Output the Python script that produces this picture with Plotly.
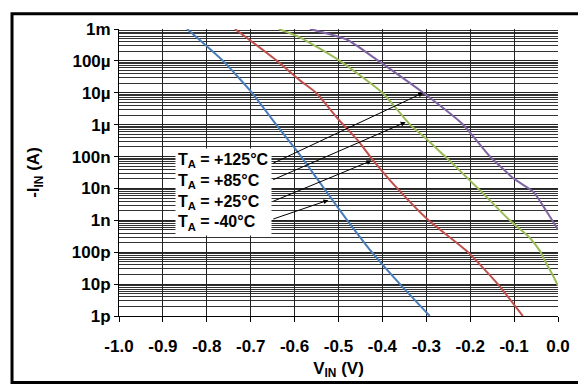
import math
import plotly.graph_objects as go

# -I_IN vs V_IN for four ambient temperatures
v_m40 = [-0.845, -0.763, -0.697, -0.642, -0.585, -0.533, -0.480, -0.424, -0.360, -0.292]
i_m40 = [1e-3, 1e-4, 1e-5, 1e-6, 1e-7, 1e-8, 1e-9, 1e-10, 1e-11, 1e-12]

v_p25 = [-0.736, -0.640, -0.588, -0.551, -0.500, -0.455, -0.428, -0.366, -0.295, -0.205, -0.137, -0.080]
i_p25 = [1e-3, 1e-4, 2.45e-5, 1e-5, 1.45e-6, 3.1e-7, 1e-7, 1e-8, 1e-9, 1e-10, 1e-11, 1e-12]

v_p85 = [-0.636, -0.588, -0.497, -0.400, -0.337, -0.295, -0.257, -0.182, -0.110,
         -0.064, -0.041, -0.026, -0.011, 0.0]
i_p85 = [1e-3, 5.5e-4, 1e-4, 1e-5, 1e-6, 3.1e-7, 1e-7, 1e-8, 1e-9,
         2.8e-10, 1.08e-10, 4.3e-11, 1.8e-11, 8.9e-12]

v_p125 = [-0.565, -0.480, -0.409, -0.307, -0.216, -0.155, -0.100, -0.056, -0.026, 0.0]
i_p125 = [1e-3, 4.6e-4, 1e-4, 1e-5, 1e-6, 1e-7, 2e-8, 7.8e-9, 1.9e-9, 5.2e-10]

x_ticks = [-1.0, -0.9, -0.8, -0.7, -0.6, -0.5, -0.4, -0.3, -0.2, -0.1, 0.0]
y_ticks = [1e-3, 1e-4, 1e-5, 1e-6, 1e-7, 1e-8, 1e-9, 1e-10, 1e-11, 1e-12]
y_labels = ["1m", "100µ", "10µ", "1µ", "100n", "10n", "1n", "100p", "10p", "1p"]

labels = ["T<sub>A</sub> = +125°C", "T<sub>A</sub> = +85°C",
          "T<sub>A</sub> = +25°C", "T<sub>A</sub> = -40°C"]
# arrow tips on each curve (V, A) and arrow tails at the label box
tips_v = [-0.307, -0.347, -0.4245, -0.523]
tips_i = [1e-5, 1.2e-6, 7.5e-8, 4.3e-9]
tail_v = -0.652
tail_i = [5.9e-8, 1.8e-8, 3.8e-9, 1.06e-9]

BLUE, RED, GREEN, PURPLE = "#4A7EBB", "#C0504D", "#9BBB59", "#8064A2"
FONT = "Arial, Liberation Sans, sans-serif"

fig = go.Figure()
for vx, iy, col, name in [(v_m40, i_m40, BLUE, "-40"), (v_p25, i_p25, RED, "+25"),
                          (v_p85, i_p85, GREEN, "+85"), (v_p125, i_p125, PURPLE, "+125")]:
    fig.add_trace(go.Scatter(x=vx, y=iy, mode="lines", name=name,
                             line=dict(color=col, width=2, shape="spline", smoothing=0.5)))

ann = []
for k in range(4):
    ann.append(dict(x=tips_v[k], y=math.log10(tips_i[k]), xref="x", yref="y",
                    ax=tail_v, ay=math.log10(tail_i[k]), axref="x", ayref="y",
                    text="", showarrow=True, arrowhead=2, arrowsize=1, arrowwidth=1,
                    arrowcolor="black"))
ann.append(dict(x=tail_v, y=-8.108, xref="x", yref="y", xanchor="right", yanchor="middle",
                text="<br>".join("<b>" + t + "</b>" for t in labels), align="left",
                showarrow=False, bgcolor="white", borderpad=2,
                font=dict(family=FONT, size=16, color="black")))

# the page body adds an 8px offset, so the figure is 8px smaller than the window
fig.update_layout(
    width=578, height=380,
    margin=dict(l=111, r=28, t=17, b=72),
    paper_bgcolor="white", plot_bgcolor="white",
    showlegend=False,
    font=dict(family=FONT, size=17, color="black"),
    xaxis=dict(range=[-1.0, 0.0], tickvals=x_ticks, ticktext=[f"<b>{t:.1f}</b>" for t in x_ticks],
               tickfont=dict(family=FONT, size=17), ticklabelstandoff=10,
               showgrid=True, gridcolor="#222", gridwidth=1, zeroline=False,
               showline=True, linecolor="black", linewidth=1,
               ticks="outside", ticklen=5, tickcolor="black",
               title=dict(text="<b>V<sub>IN</sub> (V)</b>", standoff=6,
                          font=dict(family=FONT, size=17))),
    yaxis=dict(type="log", range=[-12, -3], tickvals=y_ticks,
               ticktext=[f"<b>{t}</b>" for t in y_labels],
               tickfont=dict(family=FONT, size=17),
               showgrid=True, gridcolor="#222", gridwidth=1, zeroline=False,
               showline=True, linecolor="black", linewidth=1,
               ticks="outside", ticklen=4, tickcolor="black",
               minor=dict(dtick="D1", showgrid=True, gridcolor="#333", gridwidth=1, ticks=""),
               title=dict(text="<b>-I<sub>IN</sub> (A)</b>", standoff=27,
                          font=dict(family=FONT, size=17))),
    annotations=ann,
    shapes=[dict(type="rect", xref="paper", yref="paper",
                 x0=-0.2437, x1=1.0592, y0=-0.2315, y1=1.0533,
                 line=dict(color="black", width=3), layer="above")],
)

fig.write_html("out.html")
